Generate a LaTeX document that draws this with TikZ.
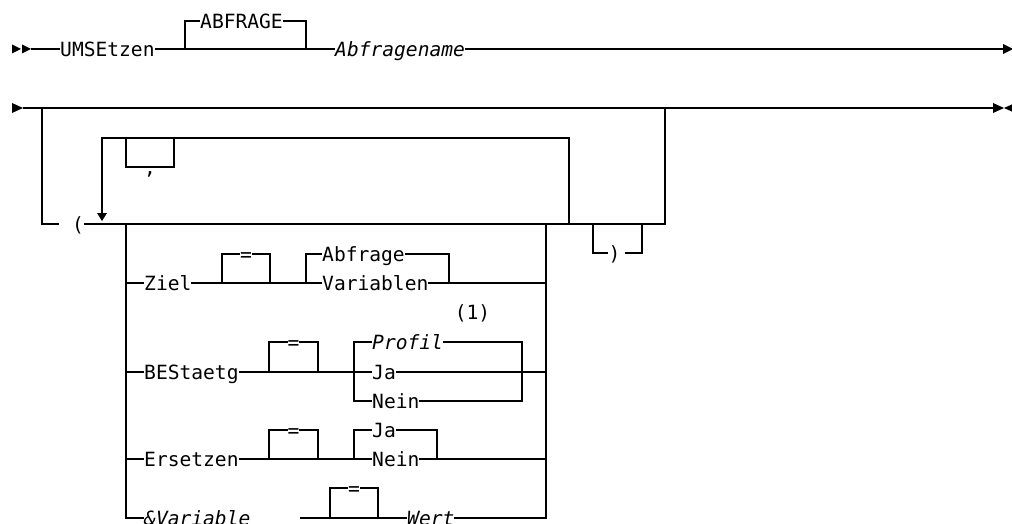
\documentclass[tikz,border=0pt]{standalone}
\usepackage{fontspec}
\newfontfamily\rrmono{DejaVu Sans Mono}[ItalicFont={DejaVu Sans Mono Oblique}]
\begin{document}
\begin{tikzpicture}[x=1pt,y=-1pt,
  rail/.style={line width=1.2pt, line join=miter},
  tip/.style={fill=black, draw=none},
  t/.style={anchor=base west, inner xsep=0pt, inner ysep=0.5pt, fill=white, font=\rrmono\fontsize{19.6}{22}\selectfont},
  tc/.style={t, anchor=base},
  ti/.style={t, font=\rrmono\itshape\fontsize{19.6}{22}\selectfont}]
\useasboundingbox (0,0) rectangle (1012,524);

% ---------- line 1 ----------
\draw[rail] (31,49) -- (1004,49);
\draw[rail] (185,49) -- (185,21) -- (306,21) -- (306,49);
\fill[tip] (12,44.5) -- (21,49) -- (12,53.5) -- cycle;
\fill[tip] (22,44.5) -- (31,49) -- (22,53.5) -- cycle;
\fill[tip] (1003,44) -- (1013,49) -- (1003,54) -- cycle;
\node[t] (umsetzen) at (60,56.2) {UMSEtzen};
\node[t] (abfrage0) at (200,28.2) {ABFRAGE};
\node[ti] (abfragename) at (335,56.2) {Abfragename};

% ---------- line 2 ----------
\draw[rail] (23,108) -- (993,108);
\fill[tip] (12,103) -- (23,108) -- (12,113) -- cycle;
\fill[tip] (993,103) -- (1004,108) -- (993,113) -- cycle;
\fill[tip] (1015,103) -- (1004,108) -- (1015,113) -- cycle;

% optional group
\draw[rail] (42,108) -- (42,224) -- (59,224);
\draw[rail] (84,224) -- (665,224) -- (665,108);
\node[tc, fill=none] (lpar) at (78,231.2) {(};

% repetition loop
\draw[rail] (569,224) -- (569,138) -- (102,138) -- (102,213);
\fill[tip] (97,213) -- (107,213) -- (102,221) -- cycle;
\draw[rail] (126,138) -- (126,167) -- (174,167) -- (174,138);
\node[tc] (comma) at (150,174.2) {,};

% optional closing parenthesis
\draw[rail] (569,224) -- (593,224);
\draw[rail] (593,224) -- (593,253) -- (608,253);
\draw[rail] (625,253) -- (642,253) -- (642,224);
\node[tc, fill=none] (rpar) at (614.5,260.2) {)};

% choice rails
\draw[rail] (126,224) -- (126,518) -- (144,518);
\draw[rail] (300,518) -- (546,518) -- (546,224);

% Ziel
\draw[rail] (126,283) -- (546,283);
\draw[rail] (222,283) -- (222,254) -- (270,254) -- (270,283);
\draw[rail] (306,283) -- (306,254) -- (449,254) -- (449,283);
\node[t] (ziel) at (144,290.2) {Ziel};
\node[tc] (eq1) at (246,261.2) {=};
\node[t] (abfrage) at (322,261.2) {Abfrage};
\node[t] (variablen) at (322,290.2) {Variablen};
\node[tc, fill=none] (note1) at (472.5,319.5) {(1)};

% BEStaetg
\draw[rail] (126,372) -- (546,372);
\draw[rail] (269,372) -- (269,342) -- (318,342) -- (318,372);
\draw[rail] (354,372) -- (354,342) -- (522,342) -- (522,401) -- (354,401) -- (354,372);
\node[t] (bestaetg) at (144,379.2) {BEStaetg};
\node[tc] (eq2) at (293.5,349.2) {=};
\node[ti] (profil) at (372,349.2) {Profil};
\node[t] (ja1) at (372,379.2) {Ja};
\node[t] (nein1) at (372,408.2) {Nein};

% Ersetzen
\draw[rail] (126,459) -- (546,459);
\draw[rail] (269,459) -- (269,430) -- (318,430) -- (318,459);
\draw[rail] (354,459) -- (354,430) -- (437,430) -- (437,459);
\node[t] (ersetzen) at (144,466.2) {Ersetzen};
\node[tc] (eq3) at (293.5,437.2) {=};
\node[t] (ja2) at (372,437.2) {Ja};
\node[t] (nein2) at (372,466.2) {Nein};

% &Variable
\draw[rail] (330,518) -- (330,488) -- (378,488) -- (378,518);
\node[ti] (variable) at (144,525.2) {\&Variable};
\node[tc] (eq4) at (354,495.2) {=};
\node[ti] (wert) at (407,525.2) {Wert};
\end{tikzpicture}
\end{document}
